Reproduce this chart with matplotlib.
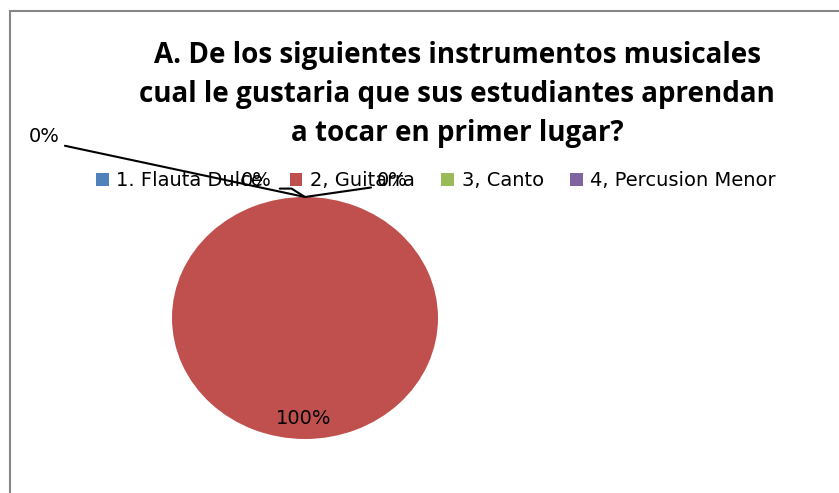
import matplotlib
matplotlib.use("Agg")
import matplotlib.pyplot as plt
from matplotlib.patches import Rectangle

W, H = 839, 493

categories = ['1. Flauta Dulce', '2, Guitarra', '3, Canto', '4, Percusion Menor']
values = [0, 100, 0, 0]
colors = ['#4F81BD', '#C0504D', '#9BBB59', '#8064A2']
title = ('A. De los siguientes instrumentos musicales\n'
         'cual le gustaria que sus estudiantes aprendan\n'
         'a tocar en primer lugar?')


def px(x, y):
    """pixel (from top-left) -> figure fraction"""
    return x / W, 1 - y / H


fig = plt.figure(figsize=(W / 100, H / 100), dpi=100)

# chart frame (cut off at right and bottom like the original)
fig.patches.append(Rectangle(px(9.5, 600), 900 / W, 589.5 / H, transform=fig.transFigure,
                             fill=False, edgecolor='#868686', linewidth=1.5))

fig.text(457 / W, 1 - 141 / H, title, ha='center', va='baseline', family='Open Sans',
         fontweight='bold', fontsize=20, linespacing=1.45, multialignment='center')

# pie axes: center (305, 318), rx 133, ry 121 px
cx, cy, rx, ry = 305, 318, 133, 121
ax = fig.add_axes([(cx - rx) / W, (H - cy - ry) / H, 2 * rx / W, 2 * ry / H])
wedges, _ = ax.pie(values, colors=colors, startangle=90, counterclock=False,
                   wedgeprops=dict(linewidth=0, edgecolor='none'))
ax.set_xlim(-1, 1)
ax.set_ylim(-1, 1)
ax.set_aspect('auto')
ax.axis('off')

total = sum(values)
labels = [f"{v / total:.0%}" for v in values]


def d(x, y):
    """pixel -> pie data coords"""
    return (x - cx) / rx, (cy - y) / ry


lab_font = dict(family='DejaVu Sans', fontsize=14, color='#000000')
top = (0, 1)
# 0% labels with leader lines to the top of the pie
ax.annotate(labels[0], xy=top, xytext=d(44, 137), ha='center', va='center',
            arrowprops=dict(arrowstyle='-', color='black', lw=1.5, shrinkA=2, shrinkB=0,
                            relpos=(1, 0.1)), annotation_clip=False, **lab_font)
ax.annotate(labels[2], xy=top, xytext=d(256, 181), ha='center', va='center',
            arrowprops=dict(arrowstyle='-', color='black', lw=1.5, shrinkA=4, shrinkB=0,
                            relpos=(1, 0.1), connectionstyle='angle,angleA=0,angleB=-32,rad=0'),
            annotation_clip=False, **lab_font)
ax.annotate(labels[3], xy=top, xytext=d(392, 181), ha='center', va='center',
            arrowprops=dict(arrowstyle='-', color='black', lw=1.5, shrinkA=2, shrinkB=0,
                            relpos=(0, 0.2)), annotation_clip=False, **lab_font)
ax.text(*d(304, 418), labels[1], ha='center', va='center', **lab_font)

fig.legend(wedges, categories, loc='center', bbox_to_anchor=px(436, 181), ncol=4,
           frameon=False, handlelength=0.65, handleheight=0.65, handletextpad=0.4,
           columnspacing=1.35, prop=dict(family='DejaVu Sans', size=14))

fig.savefig('out.png', dpi=100)
